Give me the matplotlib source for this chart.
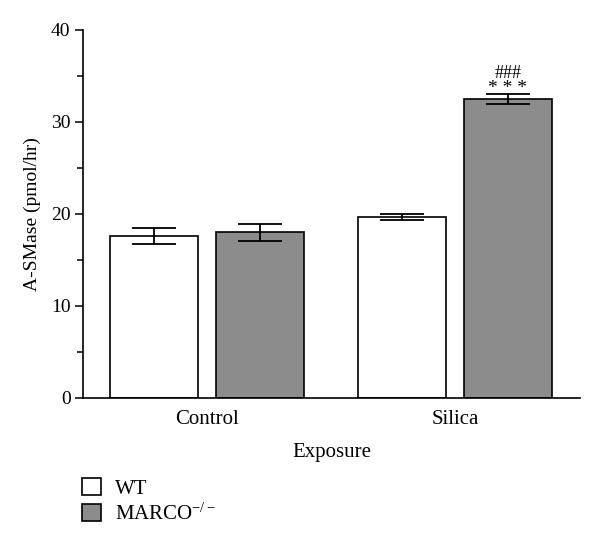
import matplotlib as mpl
mpl.use("Agg")
import matplotlib.pyplot as plt
from matplotlib.patches import Patch
import numpy as np

# data
groups = ["Control", "Silica"]
strains = ["WT", "MARCO$^{-/-}$"]
wt_mean = [17.6, 19.7]
wt_err = [0.9, 0.3]
marco_mean = [18.0, 32.5]
marco_err = [0.95, 0.5]
colors = ["white", "#8c8c8c"]

mpl.rcParams.update({
    "font.family": ["Liberation Serif", "DejaVu Serif"],
    "mathtext.fontset": "custom",
    "mathtext.rm": "Liberation Serif",
    "mathtext.it": "Liberation Serif",
    "font.size": 15,
})

fig = plt.figure(figsize=(6.0, 5.45), dpi=100)
ax = fig.add_axes([83 / 600, 1 - 398 / 545, (580 - 83) / 600, (398 - 30) / 545])

centers = np.array([1.24, 3.72])
off = 0.53
width = 0.88
ek = dict(ecolor="black", elinewidth=1.3, capsize=16, capthick=1.3)
ax.bar(centers - off, wt_mean, width, yerr=wt_err, color=colors[0],
       edgecolor="black", linewidth=1.2, error_kw=ek)
ax.bar(centers + off, marco_mean, width, yerr=marco_err, color=colors[1],
       edgecolor="black", linewidth=1.2, error_kw=ek)

top = marco_mean[1] + marco_err[1]
ax.text(centers[1] + off, top - 0.3, "* * *", ha="center", va="bottom", fontsize=14)
ax.text(centers[1] + off, top + 1.4, "###", ha="center", va="bottom", fontsize=13)

ax.set_xlim(0, 4.97)
ax.set_ylim(0, 40)
ax.set_yticks([0, 10, 20, 30, 40])
ax.set_yticks([5, 15, 25, 35], minor=True)
ax.tick_params(axis="y", which="major", length=6, width=1.1, direction="out",
               pad=3, labelsize=14)
ax.tick_params(axis="y", which="minor", length=4, width=1.1, direction="out")
ax.set_xticks(centers)
ax.set_xticklabels(groups)
ax.tick_params(axis="x", length=0, pad=9)
for s in ["top", "right"]:
    ax.spines[s].set_visible(False)
for s in ["left", "bottom"]:
    ax.spines[s].set_linewidth(1.2)
ax.set_ylabel("A-SMase (pmol/hr)", fontsize=14, labelpad=7)
ax.set_xlabel("Exposure", labelpad=10)

handles = [Patch(facecolor=c, edgecolor="black", linewidth=1.2) for c in colors]
fig.legend(handles, strains, loc="upper left", bbox_to_anchor=(82 / 600, 1 - 478 / 545),
           frameon=False, handlelength=0.9, handleheight=0.9, handletextpad=0.7,
           labelspacing=0.22, fontsize=15, borderaxespad=0, borderpad=0)

fig.savefig("out.png", dpi=100, facecolor="white")
